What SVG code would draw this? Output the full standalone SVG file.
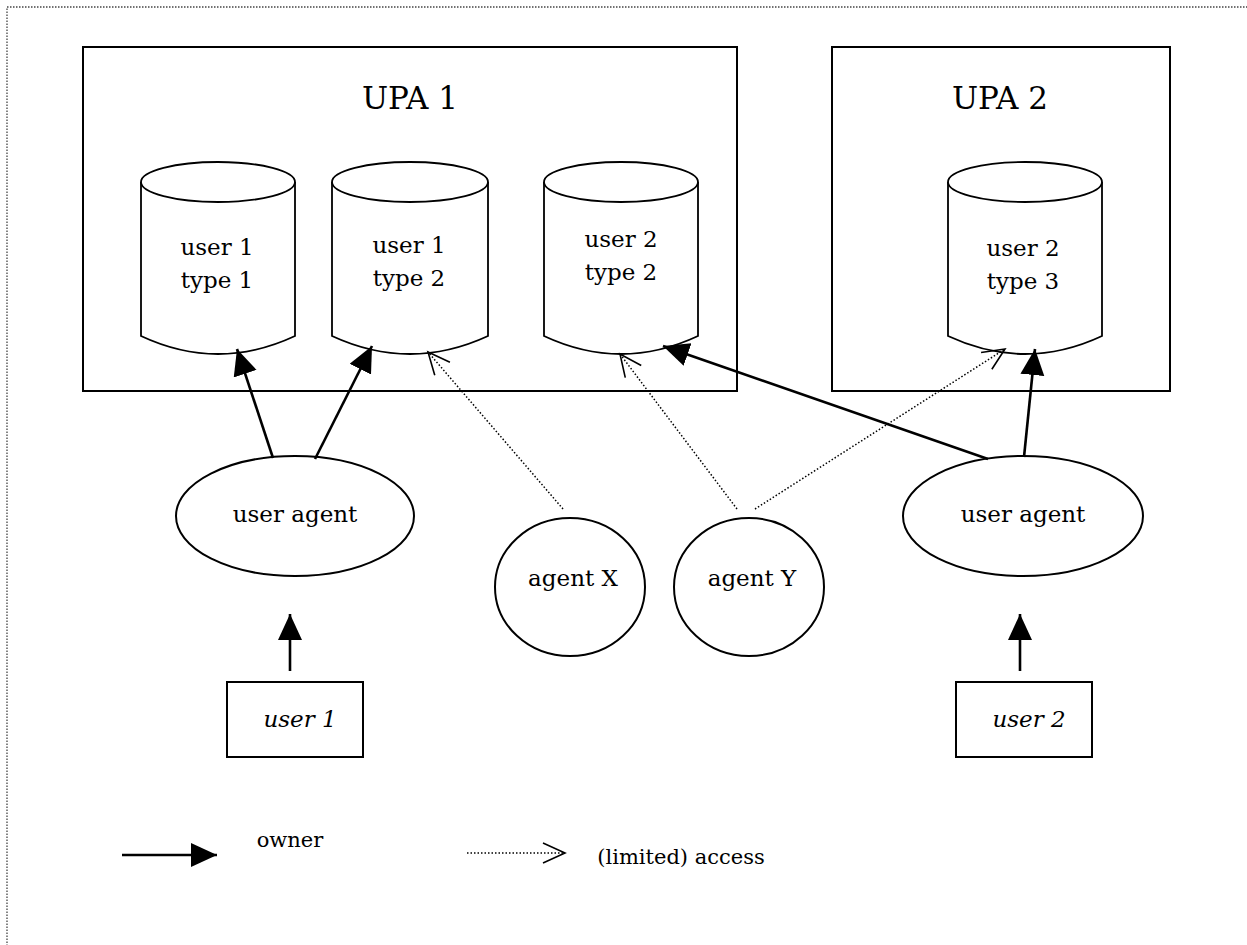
<svg xmlns="http://www.w3.org/2000/svg" width="1247" height="945" viewBox="0 0 1247 945">
<defs>
<style>
.t{font-family:"DejaVu Serif","Liberation Serif",serif;font-size:23px;fill:#000;text-anchor:middle}
.ti{font-style:italic}
.box{fill:none;stroke:#000;stroke-width:2}
.cyl{fill:#fff;stroke:#000;stroke-width:1.8}
.own{fill:none;stroke:#000;stroke-width:2.6}
.acc{fill:none;stroke:#000;stroke-width:1.5;stroke-dasharray:1.5 2}
</style>
<marker id="mo" markerUnits="userSpaceOnUse" markerWidth="28" markerHeight="26" refX="26" refY="12" orient="auto"><path d="M0,0 L26,12 L0,24 z" fill="#000"/></marker>
<marker id="ma" markerUnits="userSpaceOnUse" markerWidth="26" markerHeight="24" refX="23" refY="11" orient="auto"><path d="M1,1 L23,11 L1,21" fill="none" stroke="#000" stroke-width="1.6"/></marker>
</defs>
<rect x="7" y="7" width="1260" height="960" fill="none" stroke="#444" stroke-width="1.3" stroke-dasharray="1.5 1.5"/>
<g id="upa1"><rect class="box" x="83" y="47" width="654" height="344"/><text class="t" x="410" y="109" style="font-size:31px">UPA 1</text></g>
<g id="upa2"><rect class="box" x="832" y="47" width="338" height="344"/><text class="t" x="1000" y="109" style="font-size:31px">UPA 2</text></g>
<g id="c1"><path class="cyl" d="M141,182 L141,336 Q218,372 295,336 L295,182"/><ellipse class="cyl" cx="218" cy="182" rx="77" ry="20"/><text class="t" x="217" y="255">user 1</text><text class="t" x="217" y="288">type 1</text></g>
<g id="c2"><path class="cyl" d="M332,182 L332,336 Q410,372 488,336 L488,182"/><ellipse class="cyl" cx="410" cy="182" rx="78" ry="20"/><text class="t" x="409" y="253">user 1</text><text class="t" x="409" y="286">type 2</text></g>
<g id="c3"><path class="cyl" d="M544,182 L544,336 Q621,372 698,336 L698,182"/><ellipse class="cyl" cx="621" cy="182" rx="77" ry="20"/><text class="t" x="621" y="247">user 2</text><text class="t" x="621" y="280">type 2</text></g>
<g id="c4"><path class="cyl" d="M948,182 L948,336 Q1025,372 1102,336 L1102,182"/><ellipse class="cyl" cx="1025" cy="182" rx="77" ry="20"/><text class="t" x="1023" y="256">user 2</text><text class="t" x="1023" y="289">type 3</text></g>
<g id="ua1"><ellipse class="box" cx="295" cy="516" rx="119" ry="60"/><text class="t" x="295" y="522">user agent</text></g>
<g id="ax"><ellipse class="box" cx="570" cy="587" rx="75" ry="69"/><text class="t" x="573" y="586">agent X</text></g>
<g id="ay"><ellipse class="box" cx="749" cy="587" rx="75" ry="69"/><text class="t" x="752" y="586">agent Y</text></g>
<g id="ua2"><ellipse class="box" cx="1023" cy="516" rx="120" ry="60"/><text class="t" x="1023" y="522">user agent</text></g>
<g id="u1"><rect class="box" x="227" y="682" width="136" height="75"/><text class="t ti" x="300" y="727">user 1</text></g>
<g id="u2"><rect class="box" x="956" y="682" width="136" height="75"/><text class="t ti" x="1029" y="727">user 2</text></g>
<g id="connectors">
<line class="own" x1="273" y1="458" x2="237" y2="349" marker-end="url(#mo)"/>
<line class="own" x1="315" y1="459" x2="372" y2="346" marker-end="url(#mo)"/>
<line class="own" x1="1024" y1="457" x2="1035" y2="349" marker-end="url(#mo)"/>
<line class="own" x1="988" y1="459" x2="663" y2="346" marker-end="url(#mo)"/>
<line class="own" x1="290" y1="671" x2="290" y2="614" marker-end="url(#mo)"/>
<line class="own" x1="1020" y1="671" x2="1020" y2="614" marker-end="url(#mo)"/>
<line class="acc" x1="563" y1="509" x2="428" y2="352" marker-end="url(#ma)"/>
<line class="acc" x1="737" y1="509" x2="620" y2="354" marker-end="url(#ma)"/>
<line class="acc" x1="755" y1="509" x2="1005" y2="349" marker-end="url(#ma)"/>
</g>
<g id="legend">
<line class="own" x1="122" y1="855" x2="217" y2="855" marker-end="url(#mo)"/>
<text class="t" x="290" y="847" style="font-size:21px">owner</text>
<line class="acc" x1="467" y1="853" x2="565" y2="853" marker-end="url(#ma)"/>
<text class="t" x="681" y="864" style="font-size:21px">(limited) access</text>
</g>
</svg>
